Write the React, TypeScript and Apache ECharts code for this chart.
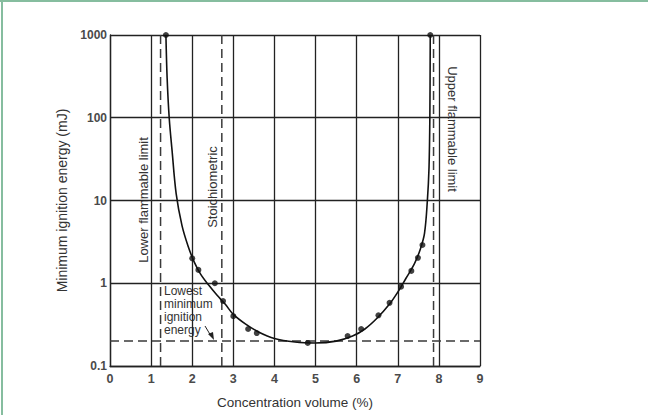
import React, { useEffect, useRef } from "react";
import * as echarts from "echarts";

// Measured points (dots)
const measuredX = [1.36, 2.0, 2.15, 2.55, 2.75, 3.0, 3.36, 3.57, 4.81, 5.78, 6.11, 6.53, 6.8, 7.08, 7.33, 7.49, 7.6, 7.79];
const measuredY = [1000, 2.0, 1.45, 1.0, 0.61, 0.4, 0.28, 0.25, 0.19, 0.23, 0.28, 0.41, 0.58, 0.91, 1.41, 2.03, 2.9, 1000];

// Fitted curve
const curveX = [1.36, 1.39, 1.44, 1.51, 1.61, 1.75, 1.9, 2.05, 2.2, 2.4, 2.6, 2.8, 3.0, 3.3, 3.6, 4.0, 4.5, 5.0, 5.5, 5.9, 6.2, 6.5, 6.8, 7.0, 7.2, 7.4, 7.55, 7.65, 7.72, 7.76, 7.78, 7.79];
const curveY = [1000, 300, 100, 40, 12, 5, 2.8, 1.8, 1.3, 0.95, 0.72, 0.56, 0.42, 0.32, 0.26, 0.215, 0.195, 0.19, 0.2, 0.23, 0.28, 0.38, 0.56, 0.78, 1.15, 1.7, 2.6, 4, 10, 25, 100, 1000];

const lowerLimit = 1.23;
const stoichiometric = 2.72;
const upperLimit = 7.87;
const lowestEnergy = 0.2;

const xMin = 0;
const xMax = 9;
const yMin = 0.1;
const yMax = 1000;

const xAxisTitle = "Concentration volume (%)";
const yAxisTitle = "Minimum ignition energy (mJ)";
const lowerLabel = "Lower flammable limit";
const stoichLabel = "Stoichiometric";
const upperLabel = "Upper flammable limit";
const annotationLines = ["Lowest", "minimum", "ignition", "energy"];

const FONT = "'Liberation Sans', Arial, sans-serif";

export default function App() {
  const ref = useRef<HTMLDivElement>(null);
  useEffect(() => {
    if (!ref.current) return;
    const chart = echarts.init(ref.current, undefined, { renderer: "svg" });
    const dashed = { color: "#3a3a3a", width: 1.5, type: [9, 5] as any };
    const labelStyle = { fontFamily: FONT, fontSize: 13, fill: "#333", align: "center", verticalAlign: "middle" };
    const option: any = {
      animation: false,
      backgroundColor: "#ffffff",
      grid: { left: 110, right: 168, top: 35, bottom: 49, containLabel: false },
      xAxis: {
        type: "value",
        min: xMin,
        max: xMax,
        interval: 1,
        name: xAxisTitle,
        nameLocation: "middle",
        nameGap: 29,
        nameTextStyle: { fontFamily: FONT, fontSize: 13.5, color: "#333" },
        axisLine: { show: true, lineStyle: { color: "#222", width: 1.3 } },
        axisTick: { show: false },
        axisLabel: { fontFamily: FONT, fontSize: 12.5, fontWeight: "bold", color: "#4a4a4a", margin: 6 },
        splitLine: { show: true, lineStyle: { color: "#222", width: 1.3 } },
      },
      yAxis: {
        type: "log",
        logBase: 10,
        min: yMin,
        max: yMax,
        name: yAxisTitle,
        nameLocation: "middle",
        nameGap: 39,
        nameTextStyle: { fontFamily: FONT, fontSize: 14, color: "#333" },
        axisLine: { show: true, lineStyle: { color: "#222", width: 1.3 } },
        axisTick: { show: false },
        axisLabel: {
          fontFamily: FONT,
          fontSize: 12,
          fontWeight: "bold",
          color: "#4a4a4a",
          margin: 3,
          formatter: (v: number) => (v < 1 ? String(v) : String(Math.round(v))),
        },
        splitLine: { show: true, lineStyle: { color: "#222", width: 1.3 } },
        minorSplitLine: { show: false },
      },
      series: [
        {
          type: "line",
          data: [[lowerLimit, yMin], [lowerLimit, yMax]],
          symbol: "none",
          lineStyle: dashed,
          z: 3,
        },
        {
          type: "line",
          data: [[stoichiometric, yMin], [stoichiometric, yMax]],
          symbol: "none",
          lineStyle: dashed,
          z: 3,
        },
        {
          type: "line",
          data: [[upperLimit, yMin], [upperLimit, yMax]],
          symbol: "none",
          lineStyle: dashed,
          z: 3,
        },
        {
          type: "line",
          data: [[xMin, lowestEnergy], [xMax, lowestEnergy]],
          symbol: "none",
          lineStyle: dashed,
          z: 3,
        },
        {
          type: "line",
          data: curveX.map((x, i) => [x, curveY[i]]),
          symbol: "none",
          smooth: 0.35,
          lineStyle: { color: "#111", width: 1.6 },
          z: 4,
        },
        {
          type: "scatter",
          data: measuredX.map((x, i) => [x, measuredY[i]]),
          symbol: "circle",
          symbolSize: 6,
          itemStyle: { color: "#111" },
          z: 5,
        },
      ],
      graphic: [
        { type: "rect", shape: { x: 0, y: 0, width: 648, height: 2 }, style: { fill: "#86bd9f" } },
        { type: "rect", shape: { x: 1, y: 0, width: 2, height: 415 }, style: { fill: "#86bd9f" } },
        { type: "text", x: 143, y: 200, rotation: Math.PI / 2, style: { text: lowerLabel, ...labelStyle } },
        { type: "text", x: 212, y: 187, rotation: Math.PI / 2, style: { text: stoichLabel, ...labelStyle } },
        { type: "text", x: 452, y: 129, rotation: -Math.PI / 2, style: { text: upperLabel, ...labelStyle } },
        {
          type: "text",
          x: 164,
          y: 284,
          style: { text: annotationLines.join("\n"), fontFamily: FONT, fontSize: 12, lineHeight: 13, fill: "#333", align: "left", verticalAlign: "top" },
        },
        {
          type: "line",
          shape: { x1: 205, y1: 326, x2: 211, y2: 336 },
          style: { stroke: "#222", lineWidth: 1 },
        },
        {
          type: "polygon",
          shape: { points: [[214, 340], [208, 334], [213, 332]] },
          style: { fill: "#222" },
        },
      ],
    };
    chart.setOption(option);
    return () => chart.dispose();
  }, []);
  return <div ref={ref} style={{ position: "fixed", left: 0, top: 0, width: 648, height: 415 }} />;
}
